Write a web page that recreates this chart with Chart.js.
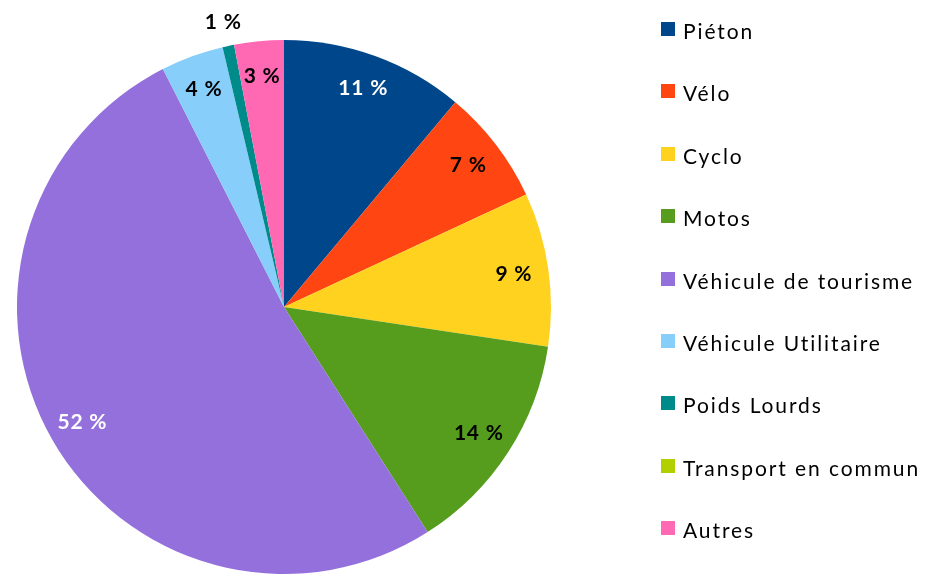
<!DOCTYPE html>
<html lang="fr">
<head>
<meta charset="utf-8">
<script src="https://cdn.jsdelivr.net/npm/chart.js@4.4.1/dist/chart.umd.min.js"></script>
<style>
  html, body { margin: 0; padding: 0; background: #fff; }
  #wrap { position: relative; width: 928px; height: 578px; }
  #legende { position: absolute; left: 661px; top: 18px; margin: 0; padding: 0; list-style: none;
             font-family: Lato, sans-serif; font-size: 21px; letter-spacing: 1.9px; color: #000; }
  #legende li { height: 62.4px; display: flex; align-items: flex-start; white-space: nowrap; }
  #legende span.case { width: 14px; height: 14px; margin-top: 4px; margin-right: 8px; flex: none; }
</style>
</head>
<body>
<div id="wrap">
  <canvas id="accidents" width="928" height="578"></canvas>
  <ul id="legende"></ul>
</div>
<script>
// Répartition par catégorie d'usager (en %)
const categories = ['Piéton', 'Vélo', 'Cyclo', 'Motos', 'Véhicule de tourisme', 'Véhicule Utilitaire', 'Poids Lourds', 'Transport en commun', 'Autres'];
const parts = [11.1, 7.0, 9.3, 13.6, 51.6, 3.8, 0.7, 0, 3.0];
const couleurs = ['#00468b', '#ff4612', '#ffd21f', '#569d1e', '#9370db', '#87cefa', '#008b8b', '#b2d000', '#ff69b4'];
const couleursTexte = ['#fff', '#000', '#000', '#000', '#fff', '#000', '#000', '#000', '#000'];

// Etiquettes "xx %" posées sur les parts
const etiquettes = {
    id: 'etiquettes',
    afterDatasetsDraw(chart) {
        const ctx = chart.ctx;
        const meta = chart.getDatasetMeta(0);
        const total = parts.reduce((a, b) => a + b, 0);
        ctx.save();
        ctx.font = 'bold 21px Lato, sans-serif';
        ctx.letterSpacing = '0.8px';
        ctx.textAlign = 'center';
        ctx.textBaseline = 'middle';
        meta.data.forEach((arc, i) => {
            if (!parts[i]) return;
            const pct = parts[i] / total * 100;
            const milieu = (arc.startAngle + arc.endAngle) / 2;
            const petit = pct < 1.5;
            const dist = arc.outerRadius * (petit ? 1.09 : 0.87);
            const x = arc.x + Math.cos(milieu) * dist;
            const y = arc.y + Math.sin(milieu) * dist;
            ctx.fillStyle = petit ? '#000' : couleursTexte[i];
            ctx.fillText(Math.round(pct) + ' %', x, y);
        });
        ctx.restore();
    }
};

const ctx = document.getElementById('accidents').getContext('2d');
const graphique = new Chart(ctx, {
    type: 'pie',
    data: {
        labels: categories,
        datasets: [{
            data: parts,
            backgroundColor: couleurs,
            borderWidth: 0
        }]
    },
    options: {
        responsive: false,
        animation: false,
        layout: { padding: { left: 17, top: 39, right: 377, bottom: 3 } },
        plugins: {
            legend: { display: false },
            tooltip: { enabled: false }
        }
    },
    plugins: [etiquettes]
});

// Légende à droite
const legende = document.getElementById('legende');
categories.forEach((nom, i) => {
    const li = document.createElement('li');
    li.innerHTML = `<span class="case" style="background:${couleurs[i]}"></span>${nom}`;
    legende.appendChild(li);
});
</script>
</body>
</html>
